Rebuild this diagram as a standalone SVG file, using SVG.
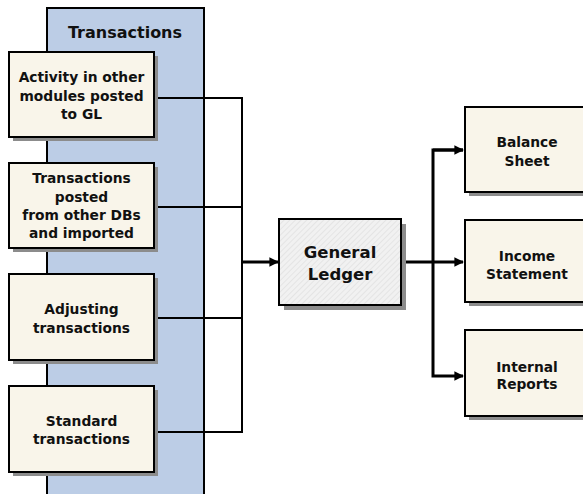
<svg xmlns="http://www.w3.org/2000/svg" width="583" height="494" viewBox="0 0 583 494">
<style>
  .box { fill: #f9f5ea; stroke: #000; stroke-width: 2; }
  .shadow { fill: #8c8c8c; }
  .t { font-family: "DejaVu Sans", Verdana, sans-serif; font-weight: bold; font-size: 13.8px; fill: #111; text-anchor: middle; }
  .feed { fill: none; stroke: #000; stroke-width: 2; }
  .flow { fill: none; stroke: #000; stroke-width: 3; }
</style>
<defs>
  <pattern id="hatch" width="4" height="4" patternUnits="userSpaceOnUse" patternTransform="rotate(45)">
    <rect width="4" height="4" fill="#f1f1f1"/>
    <line x1="0" y1="0" x2="0" y2="4" stroke="#dcdcdc" stroke-width="1.2"/>
  </pattern>
  <marker id="arr" viewBox="0 0 10 10" refX="9" refY="5" markerWidth="3.2" markerHeight="3.2" orient="auto" markerUnits="strokeWidth">
    <path d="M0,0 L10,5 L0,10 z" fill="#000"/>
  </marker>
</defs>

<!-- background column -->
<g id="column">
  <rect x="47" y="8" width="157" height="500" fill="#bccde6" stroke="#000" stroke-width="2"/>
  <text class="t" x="125" y="38" style="font-size:16px">Transactions</text>
</g>

<!-- connectors -->
<g id="connectors">
  <polyline class="feed" points="154,98 242,98 242,432 154,432"/>
  <line class="feed" x1="154" y1="207" x2="242" y2="207"/>
  <line class="feed" x1="154" y1="318" x2="242" y2="318"/>
  <line class="flow" x1="242" y1="262" x2="278" y2="262" marker-end="url(#arr)"/>
  <line class="flow" x1="401" y1="262" x2="463" y2="262" marker-end="url(#arr)"/>
  <polyline class="flow" points="463,150 433,150 433,376 463,376" marker-end="url(#arr)"/>
  <line class="flow" x1="433" y1="150" x2="463" y2="150" marker-end="url(#arr)"/>
</g>

<g id="activity">
  <rect class="shadow" x="13" y="56" width="145" height="85"/>
  <rect class="box" x="9" y="52" width="145" height="85"/>
  <text class="t" x="81.5" y="82">Activity in other</text>
  <text class="t" x="81.5" y="101">modules posted</text>
  <text class="t" x="81.5" y="119">to GL</text>
</g>

<g id="imported">
  <rect class="shadow" x="13" y="167" width="145" height="85"/>
  <rect class="box" x="9" y="163" width="145" height="85"/>
  <text class="t" x="81.5" y="183">Transactions</text>
  <text class="t" x="81.5" y="202">posted</text>
  <text class="t" x="81.5" y="220">from other DBs</text>
  <text class="t" x="81.5" y="238">and imported</text>
</g>

<g id="adjusting">
  <rect class="shadow" x="13" y="278" width="145" height="86"/>
  <rect class="box" x="9" y="274" width="145" height="86"/>
  <text class="t" x="81.5" y="314">Adjusting</text>
  <text class="t" x="81.5" y="333">transactions</text>
</g>

<g id="standard">
  <rect class="shadow" x="13" y="390" width="145" height="86"/>
  <rect class="box" x="9" y="386" width="145" height="86"/>
  <text class="t" x="81.5" y="426">Standard</text>
  <text class="t" x="81.5" y="444">transactions</text>
</g>

<g id="ledger">
  <rect class="shadow" x="284" y="224" width="122" height="86"/>
  <rect x="279" y="219" width="122" height="86" fill="url(#hatch)" stroke="#000" stroke-width="2"/>
  <text class="t" x="340" y="258" style="font-size:16.5px">General</text>
  <text class="t" x="340" y="280" style="font-size:16.5px">Ledger</text>
</g>

<g id="balance">
  <rect class="shadow" x="469" y="111" width="125" height="85"/>
  <rect class="box" x="465" y="107" width="125" height="85"/>
  <text class="t" x="527" y="147">Balance</text>
  <text class="t" x="527" y="166">Sheet</text>
</g>

<g id="income">
  <rect class="shadow" x="469" y="224" width="125" height="82"/>
  <rect class="box" x="465" y="220" width="125" height="82"/>
  <text class="t" x="527" y="261">Income</text>
  <text class="t" x="527" y="279">Statement</text>
</g>

<g id="internal">
  <rect class="shadow" x="469" y="334" width="125" height="86"/>
  <rect class="box" x="465" y="330" width="125" height="86"/>
  <text class="t" x="527" y="372">Internal</text>
  <text class="t" x="527" y="389">Reports</text>
</g>
</svg>
